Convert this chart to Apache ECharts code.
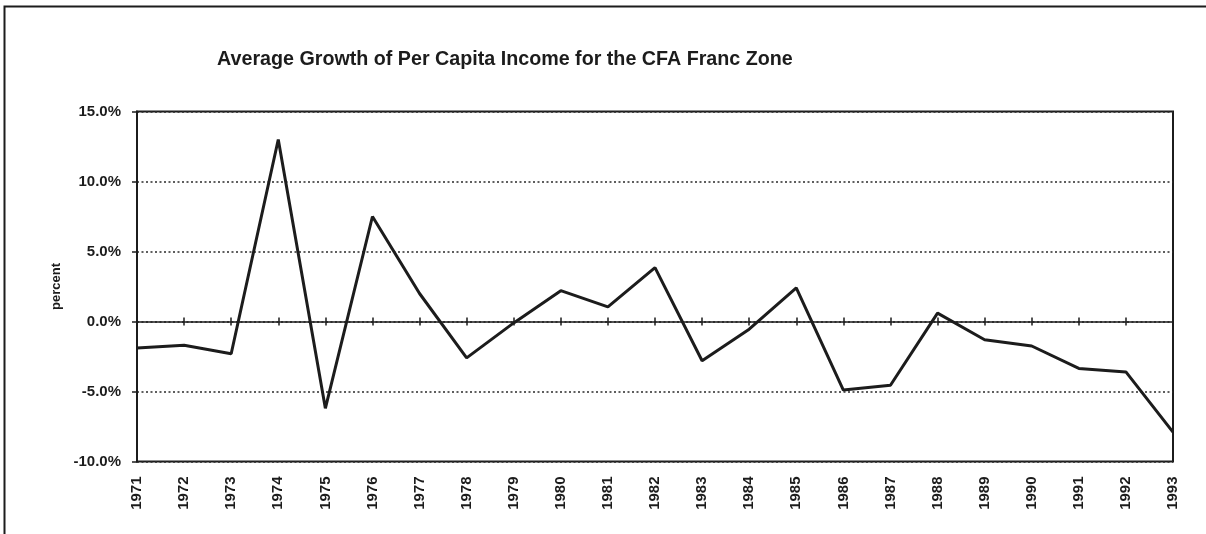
<!DOCTYPE html>
<html>
<head>
<meta charset="utf-8">
<script src="https://cdn.jsdelivr.net/npm/echarts@6/dist/echarts.min.js"></script>
<style>
  html, body { margin: 0; padding: 0; background: #ffffff; }
  #chart { width: 1206px; height: 534px; }
</style>
</head>
<body>
<div id="chart"></div>
<script>
const years = ['1971','1972','1973','1974','1975','1976','1977','1978','1979','1980','1981','1982',
               '1983','1984','1985','1986','1987','1988','1989','1990','1991','1992','1993'];
const growth = [-1.9, -1.7, -2.3, 13.0, -6.2, 7.5, 2.0, -2.6, -0.1, 2.2, 1.05, 3.85,
                -2.8, -0.55, 2.4, -4.9, -4.55, 0.6, -1.3, -1.75, -3.35, -3.6, -7.9];
const yTicks = { min: -10, max: 15, interval: 5 };
const titleText = 'Average Growth of Per Capita Income for the CFA Franc Zone';
const yName = 'percent';

const FONT = '"Liberation Sans", Arial, sans-serif';
const INK = '#1c1c1c';

const chart = echarts.init(document.getElementById('chart'), null, { renderer: 'canvas' });
chart.setOption({
  animation: false,
  backgroundColor: '#ffffff',
  title: {
    text: titleText,
    left: 212,
    top: 45,
    textStyle: { fontFamily: FONT, fontWeight: 'bold', fontSize: 19.7, color: INK }
  },
  graphic: [{
    type: 'rect',
    silent: true,
    shape: { x: 4.5, y: 6.5, width: 1300, height: 700 },
    style: { fill: null, stroke: INK, lineWidth: 2 }
  }],
  grid: {
    left: 137, right: 33, top: 111.5, bottom: 72.5,
    show: true, borderColor: INK, borderWidth: 2, backgroundColor: 'transparent'
  },
  xAxis: [
    {
      type: 'category', data: years, boundaryGap: false, position: 'bottom',
      axisLine: { show: false, onZero: false },
      axisTick: { show: false },
      axisLabel: {
        interval: 0, rotate: 90, margin: 15,
        fontFamily: FONT, fontWeight: 'bold', fontSize: 15, color: INK
      },
      splitLine: { show: false }
    },
    {
      type: 'category', data: years, boundaryGap: false, position: 'bottom',
      axisLine: { show: true, onZero: true, onZeroAxisIndex: 0, lineStyle: { color: INK, width: 1.5 } },
      axisTick: { show: true, inside: false, length: 4, interval: 0, lineStyle: { color: INK, width: 1.5 } },
      axisLabel: { show: false },
      splitLine: { show: false }
    },
    {
      type: 'category', data: years, boundaryGap: false, position: 'bottom',
      axisLine: { show: false, onZero: true, onZeroAxisIndex: 1 },
      axisTick: { show: true, inside: true, length: 4, interval: 0, lineStyle: { color: INK, width: 1.5 } },
      axisLabel: { show: false },
      splitLine: { show: false }
    }
  ],
  yAxis: [
    {
      type: 'value',
      min: yTicks.min, max: yTicks.max, interval: yTicks.interval,
      name: yName,
      nameLocation: 'middle',
      nameGap: 74,
      nameRotate: 90,
      nameTextStyle: { fontFamily: FONT, fontWeight: 'bold', fontSize: 13, color: INK },
      axisLine: { show: true, onZero: false, lineStyle: { color: INK, width: 2 } },
      axisTick: { show: true, inside: false, length: 5, lineStyle: { color: INK, width: 1.5 } },
      axisLabel: {
        margin: 16,
        fontFamily: FONT, fontWeight: 'bold', fontSize: 15, color: INK,
        formatter: v => v.toFixed(1) + '%'
      },
      splitLine: {
        show: true,
        lineStyle: { color: '#2a2a2a', width: 1.6, type: [2, 2.5] }
      }
    },
    {
      type: 'value',
      min: yTicks.min, max: yTicks.max, interval: yTicks.interval,
      position: 'left',
      axisLine: { show: false, onZero: false },
      axisTick: { show: false },
      axisLabel: { show: false },
      splitLine: { show: false }
    }
  ],
  series: [{
    type: 'line',
    data: growth,
    xAxisIndex: 0,
    yAxisIndex: 0,
    symbol: 'none',
    lineStyle: { color: INK, width: 3 },
    z: 5
  }]
});
</script>
</body>
</html>
